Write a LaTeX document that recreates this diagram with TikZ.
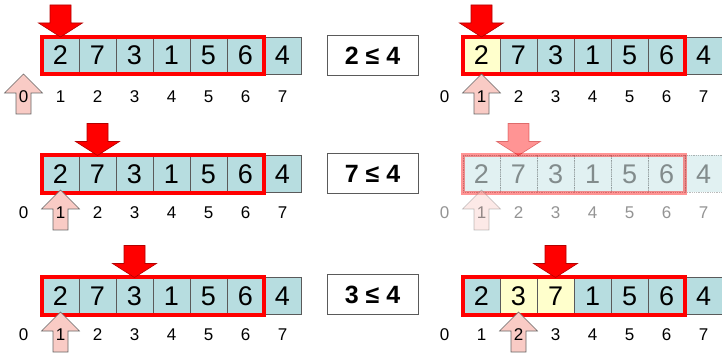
\documentclass[tikz,border=0pt]{standalone}
\usepackage{fontspec}
\setmainfont{Liberation Sans}
\usetikzlibrary{positioning}
\definecolor{CellBlue}{HTML}{B7DDE0}
\definecolor{CellHot}{HTML}{FFFFCC}
\definecolor{PtrPink}{HTML}{F9CBC5}
\definecolor{PtrRed}{HTML}{FF0000}
\definecolor{EdgeGray}{HTML}{5A5A5A}
\tikzset{
  cell/.style={draw=EdgeGray, line width=0.8pt, fill=CellBlue, inner sep=0pt,
               minimum width=37pt, minimum height=37pt, font=\fontsize{27}{30}\selectfont},
  cellhot/.style={cell, fill=CellHot},
  idx/.style={inner sep=0pt, font=\fontsize{17}{19}\selectfont},
  cmp/.style={draw=EdgeGray, line width=1pt, minimum width=91pt, minimum height=40pt,
              font=\fontsize{25}{28}\selectfont\bfseries},
  redframe/.style={draw=PtrRed, line width=4pt},
  hiptr/.pic={\path[draw=PtrRed!70!black, line width=0.6pt, fill=PtrRed]
    (0,-18.5) -- (-22,-32.5) -- (-10.5,-32.5) -- (-10.5,-50.5) -- (10.5,-50.5)
    -- (10.5,-32.5) -- (22,-32.5) -- cycle;},
  loptr/.pic={\path[draw=gray!80!black, line width=0.6pt, fill=PtrPink]
    (0,-23) -- (19,-4) -- (7.5,-4) -- (7.5,17) -- (-7.5,17) -- (-7.5,-4)
    -- (-19,-4) -- cycle;},
}
\begin{document}
\begin{tikzpicture}[x=1pt, y=-1pt]
  \useasboundingbox (0,0) rectangle (722,355);
  % row 1
  \foreach \v [count=\i] in {2,7,3,1,5,6,4}
    \node[cell] (a\i) at (23.5+37*\i,55.5) {\v};
  \draw[redframe] (a1.north west) rectangle (a6.south east);
  \pic at (a1) {hiptr};
  \pic at (23.5,97) {loptr};
  \foreach \j in {0,...,7} \node[idx] (ia\j) at (23.5+37*\j,97) {\j};
  \node[cmp] (ca) at (372.5,56) {2 ≤ 4};
  \foreach \v/\s [count=\i] in {2/cellhot,7/cell,3/cell,1/cell,5/cell,6/cell,4/cell}
    \node[\s] (b\i) at (444.5+37*\i,55.5) {\v};
  \draw[redframe] (b1.north west) rectangle (b6.south east);
  \pic at (b1) {hiptr};
  \pic at (481.5,97) {loptr};
  \foreach \j in {0,...,7} \node[idx] (ib\j) at (444.5+37*\j,97) {\j};
  % row 2
  \foreach \v [count=\i] in {2,7,3,1,5,6,4}
    \node[cell] (c\i) at (23.5+37*\i,174) {\v};
  \draw[redframe] (c1.north west) rectangle (c6.south east);
  \pic at (c2) {hiptr};
  \pic at (60.5,213) {loptr};
  \foreach \j in {0,...,7} \node[idx] (ic\j) at (23.5+37*\j,213) {\j};
  \node[cmp] (cc) at (372.5,174) {7 ≤ 4};
  \begin{scope}[opacity=0.42]
    \foreach \v [count=\i] in {2,7,3,1,5,6,4}
      \node[cell, densely dotted] (d\i) at (444.5+37*\i,174) {\v};
    \draw[redframe] (d1.north west) rectangle (d6.south east);
    \pic at (d2) {hiptr};
    \pic at (481.5,213) {loptr};
    \foreach \j in {0,...,7} \node[idx] (id\j) at (444.5+37*\j,213) {\j};
  \end{scope}
  % row 3
  \foreach \v [count=\i] in {2,7,3,1,5,6,4}
    \node[cell] (e\i) at (23.5+37*\i,296) {\v};
  \draw[redframe] (e1.north west) rectangle (e6.south east);
  \pic at (e3) {hiptr};
  \pic at (60.5,335) {loptr};
  \foreach \j in {0,...,7} \node[idx] (ie\j) at (23.5+37*\j,335) {\j};
  \node[cmp] (ce) at (372.5,294.5) {3 ≤ 4};
  \foreach \v/\s [count=\i] in {2/cell,3/cellhot,7/cellhot,1/cell,5/cell,6/cell,4/cell}
    \node[\s] (f\i) at (444.5+37*\i,296) {\v};
  \draw[redframe] (f1.north west) rectangle (f6.south east);
  \pic at (f3) {hiptr};
  \pic at (518.5,335) {loptr};
  \foreach \j in {0,...,7} \node[idx] (if\j) at (444.5+37*\j,335) {\j};
\end{tikzpicture}
\end{document}
